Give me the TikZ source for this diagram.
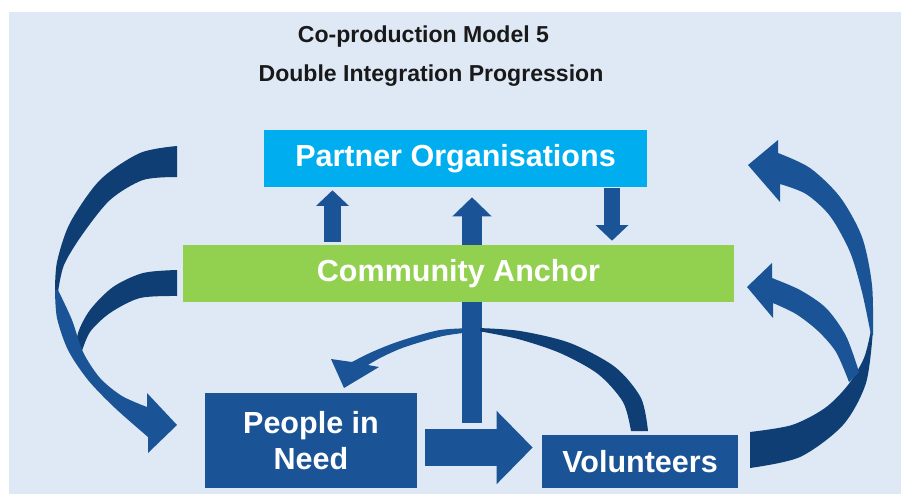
\documentclass[tikz,border=0pt]{standalone}
\usepackage{fontspec}
\setmainfont{Liberation Sans}
\usepackage{tikz}
\usetikzlibrary{positioning, arrows.meta, calc}

\definecolor{bgblue}{RGB}{222,233,245}
\definecolor{boxblue}{RGB}{27,84,150}
\definecolor{ribbondark}{RGB}{14,62,115}
\definecolor{partnerblue}{RGB}{0,174,239}
\definecolor{anchorgreen}{RGB}{146,208,80}

\begin{document}
\begin{tikzpicture}[
  x=0.025cm, y=-0.025cm,
  title/.style={inner sep=0pt, text=black!90,
    font=\fontsize{16.4}{20}\selectfont\bfseries},
  box/.style={minimum height=1.425cm, inner sep=0pt, align=center,
    text=white, font=\fontsize{21.7}{26}\selectfont\bfseries},
  smallarrow/.style={draw=boxblue, line width=12pt,
    -{Triangle[width=22.5pt, length=11pt]}},
  longarrow/.style={draw=boxblue, line width=14.2pt,
    -{Triangle[width=27pt, length=13.5pt]}},
  bigarrow/.style={draw=boxblue, line width=26.3pt,
    -{Triangle[width=50.5pt, length=25.6pt]}},
  front/.style={fill=boxblue},
  back/.style={fill=ribbondark},
]
  \useasboundingbox (0,0) rectangle (901,494);
  \fill[white] (0,0) rectangle (901,494);
  \fill[bgblue] (9,12) rectangle (901,494);

  \node[title] (title1) at (423.5,37) {Co-production Model 5};
  \node[title] (title2) at (431,76)   {Double Integration Progression};

  \coordinate (upx)   at (332.5,0);
  \coordinate (downx) at (612,0);
  \coordinate (midx)  at (472,0);
  \coordinate (foot)  at (472,423);

  \node[box, fill=partnerblue, minimum width=9.575cm] (partner) at (455.5,158.5) {Partner Organisations};

  % long arrow runs behind the anchor box
  \draw[longarrow, shorten >=0.25cm] (foot) -- (partner.south -| midx);

  \node[box, fill=anchorgreen, minimum width=13.775cm] (anchor) at (458.5,273.5) {Community Anchor};
  \node[box, fill=boxblue, minimum width=5.3cm, minimum height=2.375cm] (need) at (311,440.5) {People in\\Need};
  \node[box, fill=boxblue, minimum width=4.9cm, minimum height=1.325cm] (volunteers) at (640,461.5) {Volunteers};

  \draw[smallarrow, shorten <=0.075cm, shorten >=0.075cm] (anchor.north -| upx) -- (partner.south -| upx);
  \draw[smallarrow, shorten <=0.025cm, shorten >=0.1cm] (partner.south -| downx) -- (anchor.north -| downx);
  \draw[bigarrow] ([shift={(8,7)}]need.east) -- ([shift={(-9,-14)}]volunteers.west);

  % left ribbon: two tails into People in Need
  \fill[back] plot[smooth] coordinates {(177,146) (140,153) (100,180) (70,223) (57,262) (55,292)}
    -- plot[smooth] coordinates {(58,292) (64,265) (82,235) (110,200) (143,180) (177,177)} -- cycle;
  \fill[back] plot[smooth] coordinates {(177,270) (143,273) (113,287) (90,310) (78,333) (76,354)}
    -- plot[smooth] coordinates {(81,354) (90,332) (110,313) (140,298) (177,296)} -- cycle;
  \fill[front] plot[smooth] coordinates {(55,290) (57,318) (68,350) (88,380) (115,408) (148,437)}
    -- (148,453) -- (177,425) -- (147,393)
    -- plot[smooth] coordinates {(147,407) (122,396) (100,378) (83,352) (72,320) (58,290)} -- cycle;

  % right ribbon: one tail out of Volunteers, two heads
  \fill[back] plot[smooth] coordinates {(750,468) (800,457) (843,425) (866,383) (873,330)}
    -- plot[smooth] coordinates {(871,330) (864,358) (848,385) (825,408) (792,425) (750,432)} -- cycle;
  \fill[front] plot[smooth] coordinates {(873,335) (872,285) (862,237) (840,197) (810,168) (778,153)}
    -- (778,140) -- (748,165) -- (780,202)
    -- plot[smooth] coordinates {(780,184) (806,194) (830,216) (850,252) (862,292) (871,335)} -- cycle;
  \fill[front] plot[smooth] coordinates {(859,372) (846,336) (826,308) (800,290) (772,278)}
    -- (772,263) -- (747,287) -- (773,318)
    -- plot[smooth] coordinates {(773,303) (796,314) (818,331) (836,352) (849,382)} -- cycle;

  % middle arc from Volunteers back to People in Need
  \fill[back] plot[smooth] coordinates {(648,431) (641,398) (615,367) (570,343) (520,331) (478,328)}
    -- plot[smooth] coordinates {(478,331) (518,339) (560,353) (598,374) (623,402) (631,431)} -- cycle;
  \fill[front] plot[smooth] coordinates {(480,328) (440,330) (400,341) (372,352) (352,362)}
    -- (331,359) -- (344,388) -- (379,367)
    -- plot[smooth] coordinates {(368,365) (382,357) (405,347) (443,336) (480,331)} -- cycle;
\end{tikzpicture}
\end{document}
